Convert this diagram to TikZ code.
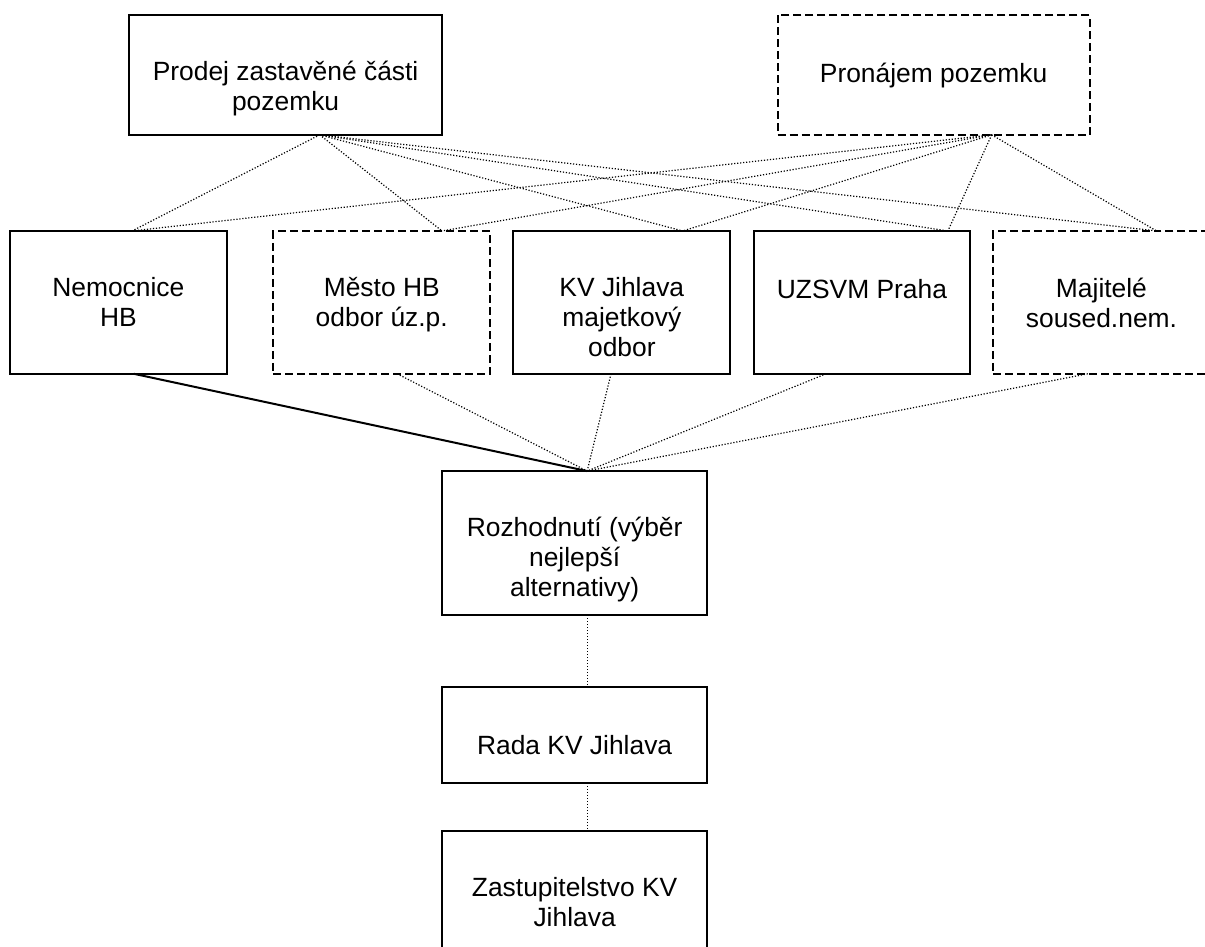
\documentclass[tikz,border=0pt]{standalone}
\usepackage{fontspec}
\setmainfont{Liberation Sans}
\usepackage{tikz}
\pgfdeclarelayer{edgelayer}
\pgfdeclarelayer{nodelayer}
\pgfsetlayers{edgelayer,nodelayer,main}
\tikzstyle{none}=[inner sep=0pt]
\tikzstyle{box}=[rectangle, draw, line width=1pt]
\tikzstyle{dashbox}=[box, dash pattern=on 4pt off 2pt]
\tikzstyle{boxtext}=[anchor=north, align=center, inner sep=0pt, yshift=-23.5pt, font=\fontsize{13.2}{15}\selectfont, execute at begin node=\strut]
\tikzstyle{dots}=[line width=0.6pt, dash pattern=on 0.6pt off 0.9pt]
\tikzstyle{solid edge}=[line width=1pt]

\begin{document}
\begin{tikzpicture}
	\useasboundingbox (0, 0) rectangle (21.18, -16.64);
	\begin{pgfonlayer}{nodelayer}
		\node [style=box, minimum width=5.5cm, minimum height=2.11cm, label={[style=boxtext]north:{Prodej zastavěné části\\pozemku}}] (0) at (5.02, -1.32) {};
		\node [style=dashbox, minimum width=5.48cm, minimum height=2.11cm, label={[style=boxtext]north:{Pronájem pozemku}}] (1) at (16.41, -1.32) {};
		\node [style=box, minimum width=3.81cm, minimum height=2.51cm, label={[style=boxtext]north:{Nemocnice\\HB}}] (2) at (2.08, -5.32) {};
		\node [style=dashbox, minimum width=3.81cm, minimum height=2.51cm, label={[style=boxtext]north:{Město HB\\odbor úz.p.}}] (3) at (6.71, -5.32) {};
		\node [style=box, minimum width=3.81cm, minimum height=2.51cm, label={[style=boxtext]north:{KV Jihlava\\majetkový\\odbor}}] (4) at (10.93, -5.32) {};
		\node [style=box, minimum width=3.81cm, minimum height=2.51cm, label={[style=boxtext]north:{UZSVM Praha}}] (5) at (15.15, -5.32) {};
		\node [style=dashbox, minimum width=3.81cm, minimum height=2.51cm, label={[style=boxtext]north:{Majitelé\\soused.nem.}}] (6) at (19.36, -5.32) {};
		\node [style=box, minimum width=4.66cm, minimum height=2.53cm, label={[style=boxtext]north:{Rozhodnutí (výběr\\nejlepší\\alternativy)}}] (7) at (10.10, -9.54) {};
		\node [style=box, minimum width=4.66cm, minimum height=1.69cm, label={[style=boxtext]north:{Rada KV Jihlava}}] (8) at (10.10, -12.92) {};
		\node [style=box, minimum width=4.66cm, minimum height=2.53cm, label={[style=boxtext]north:{Zastupitelstvo KV\\Jihlava}}] (9) at (10.10, -15.87) {};
		\node [style=none] (10) at (5.62, -2.37) {};
		\node [style=none] (11) at (17.43, -2.37) {};
		\node [style=none] (12) at (2.32, -4.06) {};
		\node [style=none] (13) at (7.77, -4.06) {};
		\node [style=none] (14) at (12.00, -4.06) {};
		\node [style=none] (15) at (16.66, -4.06) {};
		\node [style=none] (16) at (20.33, -4.06) {};
		\node [style=none] (17) at (2.35, -6.57) {};
		\node [style=none] (18) at (6.98, -6.57) {};
		\node [style=none] (19) at (10.74, -6.57) {};
		\node [style=none] (20) at (14.52, -6.57) {};
		\node [style=none] (21) at (19.12, -6.57) {};
		\node [style=none] (22) at (10.32, -8.28) {};
		\node [style=none] (23) at (10.32, -10.81) {};
		\node [style=none] (24) at (10.32, -12.07) {};
		\node [style=none] (25) at (10.32, -13.76) {};
		\node [style=none] (26) at (10.32, -14.60) {};
	\end{pgfonlayer}
	\begin{pgfonlayer}{edgelayer}
		\draw [style=dots] (10.center) to (12.center);
		\draw [style=dots] (10.center) to (13.center);
		\draw [style=dots] (10.center) to (14.center);
		\draw [style=dots] (10.center) to (15.center);
		\draw [style=dots] (10.center) to (16.center);
		\draw [style=dots] (11.center) to (12.center);
		\draw [style=dots] (11.center) to (13.center);
		\draw [style=dots] (11.center) to (14.center);
		\draw [style=dots] (11.center) to (15.center);
		\draw [style=dots] (11.center) to (16.center);
		\draw [style=solid edge] (17.center) to (22.center);
		\draw [style=dots] (18.center) to (22.center);
		\draw [style=dots] (19.center) to (22.center);
		\draw [style=dots] (20.center) to (22.center);
		\draw [style=dots] (21.center) to (22.center);
		\draw [style=dots] (23.center) to (24.center);
		\draw [style=dots] (25.center) to (26.center);
	\end{pgfonlayer}
\end{tikzpicture}
\end{document}
